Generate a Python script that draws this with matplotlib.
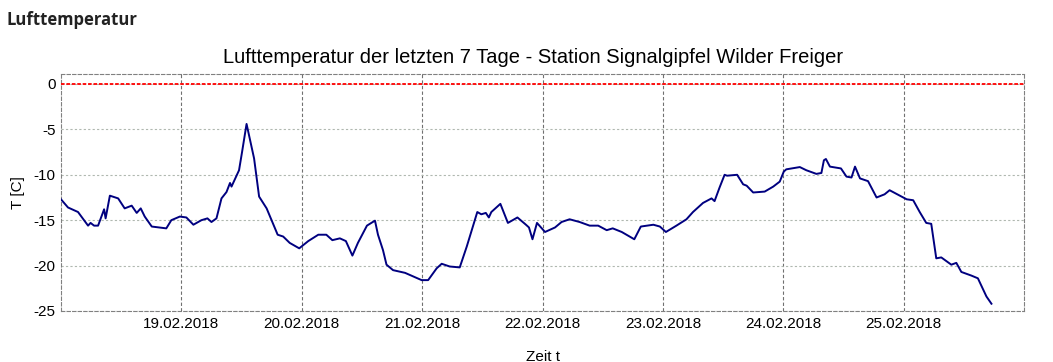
#!/usr/bin/env python3

from datetime import datetime, timedelta

import matplotlib
matplotlib.use("Agg")
import matplotlib.dates as mdates
import matplotlib.pyplot as plt

# hours since 18.02.2018 00:00 and air temperature [C]
hours = [0.0, 1.4, 3.4, 5.4, 5.9, 6.6, 7.4, 8.6, 8.9, 9.75, 11.4, 12.7, 14.1,
         15.1, 15.9, 16.7, 18.1, 21.0, 22.0, 23.7, 25.0, 26.4, 28.0, 29.2,
         30.0, 31.0, 32.0, 33.0, 33.7, 34.0, 35.5, 36.1, 37.0, 38.5, 39.5,
         41.0, 43.2, 44.3, 45.6, 47.5, 49.3, 51.3, 52.9, 54.1, 55.6, 56.8,
         58.1, 59.2, 61.0, 62.6, 63.2, 64.2, 64.9, 66.2, 68.6, 71.9, 73.2,
         74.9, 75.9, 77.5, 79.5, 80.9, 83.0, 83.8, 84.7, 85.3, 85.8, 87.6,
         89.1, 91.0, 92.7, 93.3, 94.0, 94.9, 96.5, 98.5, 99.8, 101.4, 103.4,
         105.4, 107.1, 108.8, 110.0, 111.8, 114.3, 115.6, 118.1, 119.4,
         120.6, 122.7, 124.7, 126.0, 127.0, 128.0, 129.7, 130.3, 131.3,
         132.3, 132.8, 134.8, 136.0, 136.7, 138.0, 140.3, 142.0, 143.3,
         144.1, 144.6, 147.3, 148.6, 150.6, 151.6, 152.1, 152.5, 153.3,
         155.5, 156.6, 157.6, 158.3, 159.3, 160.9, 162.6, 164.2, 165.2,
         166.9, 168.6, 169.9, 171.2, 172.5, 173.5, 174.5, 175.5, 177.5,
         178.5, 179.5, 181.5, 182.8, 184.5, 185.5]
temps = [-12.7, -13.6, -14.1, -15.6, -15.3, -15.6, -15.6, -13.8, -14.8, -12.3,
         -12.6, -13.7, -13.4, -14.2, -13.7, -14.6, -15.7, -15.9, -15.0, -14.6,
         -14.7, -15.5, -15.0, -14.8, -15.2, -14.8, -12.6, -11.9, -10.9, -11.3,
         -9.5, -7.5, -4.4, -8.2, -12.4, -13.7, -16.6, -16.8, -17.5, -18.1,
         -17.3, -16.6, -16.6, -17.2, -17.0, -17.3, -18.9, -17.5, -15.6, -15.05,
         -16.6, -18.3, -19.9, -20.5, -20.8, -21.6, -21.6, -20.3, -19.8, -20.1,
         -20.2, -17.9, -14.1, -14.35, -14.2, -14.7, -14.1, -13.2, -15.3, -14.7,
         -15.5, -15.8, -17.1, -15.3, -16.3, -15.8, -15.2, -14.9, -15.2, -15.6,
         -15.6, -16.1, -15.9, -16.3, -17.1, -15.7, -15.5, -15.7, -16.3, -15.6,
         -14.9, -14.1, -13.6, -13.1, -12.6, -12.9, -11.4, -10.0, -10.1, -10.0,
         -11.05, -11.2, -11.95, -11.85, -11.3, -10.75, -9.65, -9.4, -9.15,
         -9.5, -9.9, -9.8, -8.4, -8.26, -9.1, -9.3, -10.2, -10.3, -9.1, -10.4,
         -10.7, -12.5, -12.15, -11.7, -12.2, -12.7, -12.8, -14.1, -15.3,
         -15.4, -19.2, -19.1, -19.9, -19.7, -20.7, -21.1, -21.4, -23.4, -24.2]
yticks = [0, -5, -10, -15, -20, -25]

start = datetime(2018, 2, 18)
times = [start + timedelta(hours=h) for h in hours]

plt.rcParams["font.family"] = ["Liberation Sans", "DejaVu Sans"]
plt.rcParams["axes.unicode_minus"] = False

fig = plt.figure(figsize=(10.53, 3.62), dpi=100)
ax = fig.add_axes([0.0579, 0.1409, 0.9146, 0.6547])

fig.text(0.006, 0.945, "Lufttemperatur", fontsize=12, fontweight="bold",
         family="Open Sans", color="#222222", va="center", ha="left")
fig.text(0.506, 0.84, "Lufttemperatur der letzten 7 Tage - Station "
         "Signalgipfel Wilder Freiger", fontsize=14.5, ha="center",
         va="center")

ax.axhline(0, color="#ff0000", lw=1.3, ls=(0, (2, 1)), zorder=3)
ax.plot(times, temps, color="#000080", lw=1.4, zorder=4)

ax.set_xlim(start, start + timedelta(hours=192))
ax.set_ylim(-25, 1.1)
ax.set_yticks(yticks)
ax.xaxis.set_major_locator(mdates.DayLocator(bymonthday=range(19, 26)))
ax.xaxis.set_major_formatter(mdates.DateFormatter("%d.%m.%Y"))
ax.tick_params(length=0, labelsize=11, pad=4)

ax.grid(axis="x", color="#707070", lw=0.8, ls=(0, (3, 2)))
ax.grid(axis="y", color="#b0b8b0", lw=0.8, ls=(0, (2, 2)))
for sp in ax.spines.values():
    sp.set_color("#808080")
    sp.set_linestyle((0, (3, 2)))
    sp.set_linewidth(0.8)

ax.set_xlabel("Zeit t", fontsize=11, labelpad=14)
ax.set_ylabel("T [C]", fontsize=11, labelpad=6)

fig.savefig("out.png", dpi=100)
plt.close(fig)
